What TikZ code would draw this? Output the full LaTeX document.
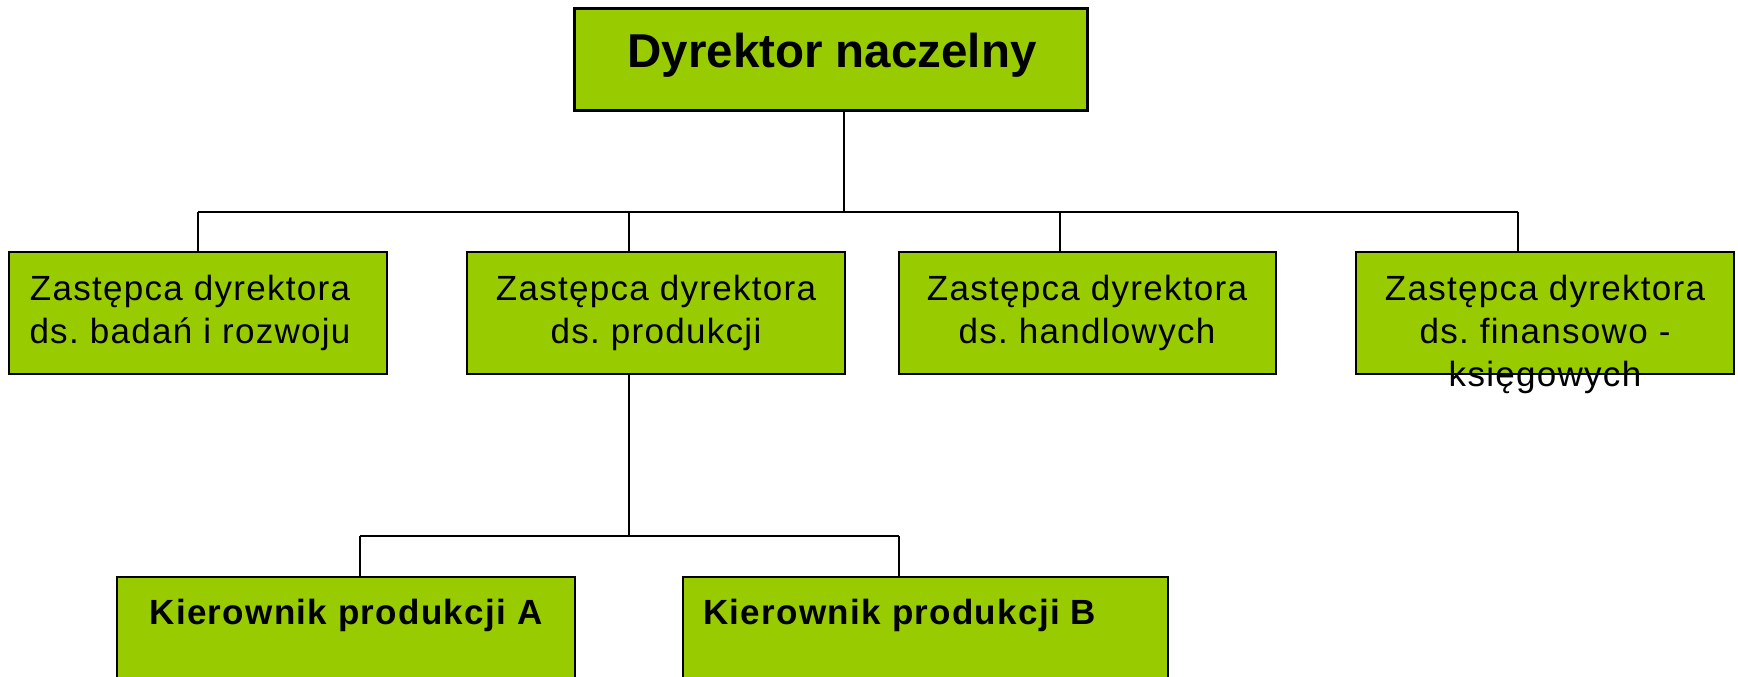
\documentclass[tikz,border=0pt]{standalone}
\usepackage{fontspec}
\setmainfont{Liberation Sans}
\newfontfamily\spacedsans[LetterSpace=3.7]{Liberation Sans}
\frenchspacing
\definecolor{boxgreen}{HTML}{99CC00}
\begin{document}
\begin{tikzpicture}[x=0.5pt,y=-0.5pt,
  box/.style={draw=black, fill=boxgreen, line width=1pt, rectangle, inner sep=0pt},
  conn/.style={draw=black, line width=1pt},
  titletxt/.style={inner sep=0pt, font={\fontsize{23.75}{28}\selectfont\bfseries}},
  deptxt/.style={inner sep=0pt, align=center, font={\spacedsans\fontsize{17.5}{21.5}\selectfont}},
  mgrtxt/.style={inner sep=0pt, font={\spacedsans\fontsize{17.5}{21}\selectfont\bfseries}}]
\useasboundingbox (0,0) rectangle (1738,676);
\clip (0,0) rectangle (1738,676);

% boxes
\node[box, line width=1.5pt, minimum width=256.5pt, minimum height=51pt] (top) at (830.5,59) {};
\node[box, minimum width=189pt, minimum height=61pt] (d1) at (198,313) {};
\node[box, minimum width=189pt, minimum height=61pt] (d2) at (656,313) {};
\node[box, minimum width=188.5pt, minimum height=61pt] (d3) at (1087.5,313) {};
\node[box, minimum width=189pt, minimum height=61pt] (d4) at (1545,313) {};
\node[box, minimum width=229pt, minimum height=56.5pt] (kA) at (346,633.5) {};
\node[box, minimum width=242.5pt, minimum height=56.5pt] (kB) at (925.5,633.5) {};

% labels
\node[titletxt, anchor=base] (t0) at (832,67) {Dyrektor naczelny};
\node[deptxt, anchor=north] (t1) at (190,275) {Zastępca dyrektora\\ds. badań i rozwoju};
\node[deptxt, anchor=north] (t2) at (656,275) {Zastępca dyrektora\\ds. produkcji};
\node[deptxt, anchor=north] (t3) at (1087,275) {Zastępca dyrektora\\ds. handlowych};
\node[deptxt, anchor=north] (t4) at (1545,275) {Zastępca dyrektora\\ds. finansowo -\\księgowych};
\node[mgrtxt, anchor=base] (tA) at (346,624) {Kierownik produkcji A};
\node[mgrtxt, anchor=base west] (tB) at (703,624) {Kierownik produkcji B};

% junction points
\coordinate (j0) at (844,212);
\coordinate (p1) at (198,212);
\coordinate (p2) at (629,212);
\coordinate (p3) at (1060,212);
\coordinate (p4) at (1518,212);
\coordinate (j1) at (629,536);
\coordinate (pA) at (360,536);
\coordinate (pB) at (899,536);

% connectors
\draw[conn] (top.south -| j0) -- (j0);
\draw[conn] (p1) -- (p4);
\draw[conn] (p1) -- (p1 |- d1.north);
\draw[conn] (p2) -- (p2 |- d2.north);
\draw[conn] (p3) -- (p3 |- d3.north);
\draw[conn] (p4) -- (p4 |- d4.north);
\draw[conn] (d2.south -| j1) -- (j1);
\draw[conn] (pA) -- (pB);
\draw[conn] (pA) -- (pA |- kA.north);
\draw[conn] (pB) -- (pB |- kB.north);
\end{tikzpicture}
\end{document}
